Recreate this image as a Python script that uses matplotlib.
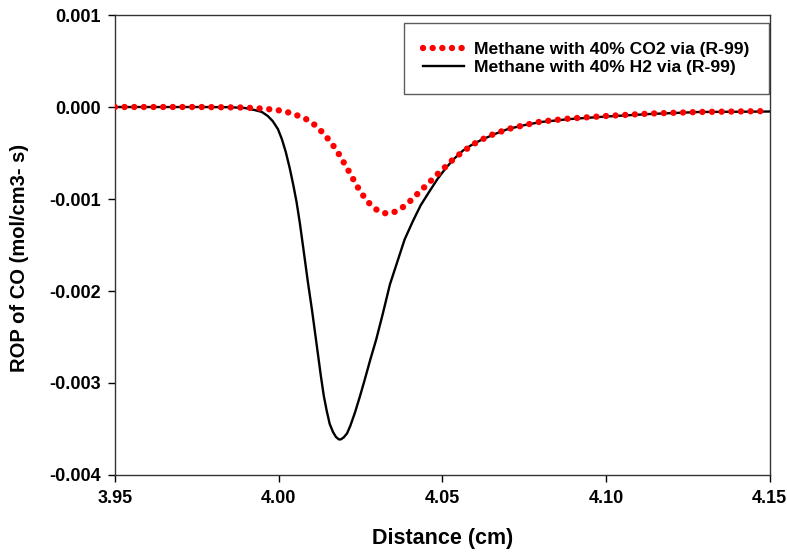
import matplotlib
matplotlib.use("Agg")
import matplotlib.pyplot as plt

plt.rcParams['font.family'] = ['Liberation Sans', 'DejaVu Sans']
plt.rcParams['font.weight'] = 'bold'

# CO2 case (red dotted)
x_co2 = [3.9500, 3.9760, 3.9882, 3.9924, 3.9956, 3.9986, 4.0015, 4.0043, 4.0068, 4.0092,
         4.0112, 4.0129, 4.0146, 4.0162, 4.0177, 4.0189, 4.0202, 4.0215, 4.0228, 4.0240,
         4.0253, 4.0268, 4.0284, 4.0306, 4.0330, 4.0355, 4.0378, 4.0398, 4.0416, 4.0437,
         4.0460, 4.0480, 4.0502, 4.0527, 4.0553, 4.0578, 4.0604, 4.0645, 4.0700, 4.0752,
         4.0801, 4.0889, 4.0999, 4.1134, 4.1286, 4.1500]
y_co2 = [0.0, 0.0, -0.000005, -0.000011, -0.000019, -0.000029, -0.000044, -0.000073, -0.000106, -0.000145,
         -0.000199, -0.000258, -0.000324, -0.000396, -0.000469, -0.000542, -0.000621, -0.000701, -0.000785, -0.000861,
         -0.000937, -0.001008, -0.001076, -0.001133, -0.001159, -0.001139, -0.001093, -0.001035, -0.000973, -0.000899,
         -0.000821, -0.000747, -0.000676, -0.000589, -0.000512, -0.000447, -0.000385, -0.000311, -0.000240, -0.000196,
         -0.000158, -0.000125, -0.000098, -0.000071, -0.000054, -0.000044]

# H2 case (black solid)
x_h2 = [3.9500, 3.9760, 3.9851, 3.9897, 3.9927, 3.9949, 3.9967, 3.9982, 3.9998, 4.0010,
        4.0022, 4.0034, 4.0045, 4.0055, 4.0065, 4.0077, 4.0089, 4.0102, 4.0114, 4.0129,
        4.0138, 4.0147, 4.0156, 4.0166, 4.0175, 4.0184, 4.0190, 4.0199, 4.0209, 4.0219,
        4.0233, 4.0248, 4.0263, 4.0280, 4.0298, 4.0318, 4.0340, 4.0361, 4.0385, 4.0410,
        4.0434, 4.0462, 4.0486, 4.0513, 4.0538, 4.0563, 4.0589, 4.0615, 4.0660, 4.0700,
        4.0752, 4.0801, 4.0889, 4.0999, 4.1134, 4.1286, 4.1500]
y_h2 = [0.0, 0.0, -0.000002, -0.000011, -0.000033, -0.000054, -0.000098, -0.000153, -0.000240, -0.000349,
        -0.000490, -0.000665, -0.000850, -0.001035, -0.001264, -0.001575, -0.001891, -0.002207, -0.002523, -0.002921,
        -0.003139, -0.003303, -0.003444, -0.003531, -0.003586, -0.003613, -0.003613, -0.003591, -0.003548, -0.003466,
        -0.003324, -0.003150, -0.002965, -0.002747, -0.002529, -0.002251, -0.001929, -0.001700, -0.001439, -0.001242,
        -0.001068, -0.000910, -0.000779, -0.000654, -0.000556, -0.000474, -0.000414, -0.000365, -0.000294, -0.000240,
        -0.000196, -0.000163, -0.000131, -0.000104, -0.000076, -0.000054, -0.000049]

x_ticks = [3.95, 4.00, 4.05, 4.10, 4.15]
x_tick_labels = ['3.95', '4.00', '4.05', '4.10', '4.15']
y_ticks = [-0.004, -0.003, -0.002, -0.001, 0.000, 0.001]
y_tick_labels = ['-0.004', '-0.003', '-0.002', '-0.001', '0.000', '0.001']

fig = plt.figure(figsize=(7.87, 5.52), dpi=100)
ax = fig.add_axes([0.146, 0.1395, 0.832, 0.8333])

ax.plot(x_h2, y_h2, color='black', lw=1.7, label='Methane with 40% H2 via (R-99)', zorder=2)
ax.plot(x_co2, y_co2, color='#ff0000', lw=4.6, linestyle=(0, (0.01, 1.5)),
        dash_capstyle='round', label='Methane with 40% CO2 via (R-99)', zorder=3)

ax.set_xlim(3.95, 4.15)
ax.set_ylim(-0.004, 0.001)
ax.set_xticks(x_ticks)
ax.set_xticklabels(x_tick_labels)
ax.set_yticks(y_ticks)
ax.set_yticklabels(y_tick_labels)
ax.tick_params(direction='out', length=5, width=1, labelsize=13, colors='black')
ax.tick_params(axis='x', pad=6)
ax.tick_params(axis='y', pad=5)
for s in ax.spines.values():
    s.set_color('#333333')
    s.set_linewidth(1.0)

ax.set_xlabel('Distance (cm)', fontsize=15.5, fontweight='bold', labelpad=15)
ax.set_ylabel('ROP of CO (mol/cm3- s)', fontsize=14.5, fontweight='bold')
ax.yaxis.set_label_coords(-0.131, 0.472)

handles, labels = ax.get_legend_handles_labels()
order = [1, 0]
leg = ax.legend([handles[i] for i in order], [labels[i] for i in order],
                loc='upper right', bbox_to_anchor=(0.9985, 0.983), fontsize=12.6,
                frameon=True, fancybox=False, edgecolor='#333333', handlelength=2.3,
                borderpad=1.1, labelspacing=0.12, handletextpad=0.6, borderaxespad=0.0)
leg.get_frame().set_linewidth(1.0)

fig.savefig('out.png', dpi=100)
